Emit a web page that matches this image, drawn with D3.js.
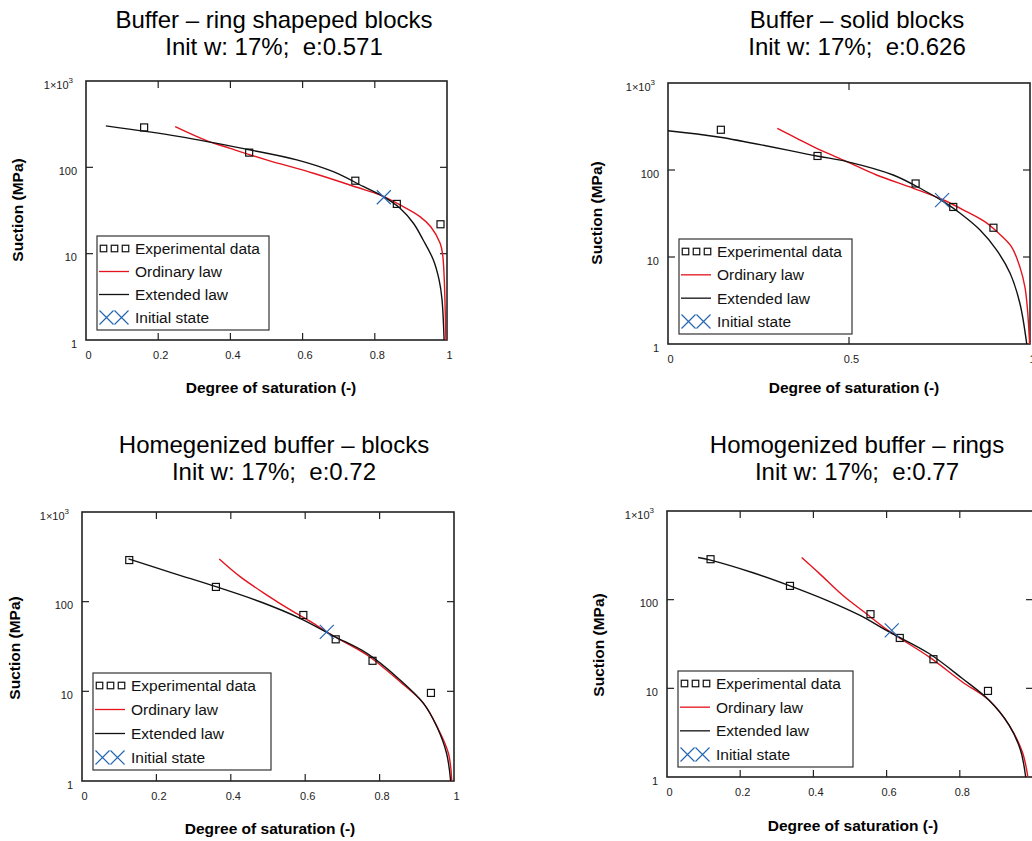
<!DOCTYPE html>
<html>
<head>
<meta charset="utf-8">
<script src="https://cdn.jsdelivr.net/npm/d3@7"></script>
<style>
  body { margin: 0; background: #fff; }
  svg { display: block; font-family: Arial, "Liberation Sans", sans-serif; }
</style>
</head>
<body>
<svg width="1032" height="841"></svg>
<script>
// --- data: [degree of saturation, suction MPa] ---

// Buffer - ring shapeped blocks
var expRing = [[0.161, 290], [0.452, 148], [0.746, 70], [0.861, 37.7], [0.982, 21.9]]
var ordRing = [[0.247, 296], [0.334, 204], [0.399, 166], [0.500, 122], [0.630, 85.4], [0.750, 58.8],
  [0.814, 47.9], [0.870, 36.7], [0.925, 26.9], [0.955, 20.5], [0.981, 13.2], [0.988, 9.7],
  [0.992, 5.5], [0.994, 3.2], [0.997, 1]]
var extRing = [[0.055, 302], [0.260, 227], [0.445, 162], [0.584, 122], [0.685, 89], [0.768, 60],
  [0.824, 45.8], [0.870, 33.6], [0.907, 22.5], [0.934, 14.4], [0.962, 8.5], [0.978, 5.0],
  [0.986, 3.0], [0.992, 1]]
var initRing = [0.825, 45]

// Buffer - solid blocks
var expSolid = [[0.146, 290], [0.413, 145], [0.684, 70], [0.788, 37.6], [0.899, 21.7]]
var ordSolid = [[0.302, 301], [0.365, 221], [0.420, 170], [0.494, 125], [0.576, 87.6], [0.678, 61.6],
  [0.761, 45.2], [0.825, 33.2], [0.875, 25.5], [0.915, 18.5], [0.949, 13.1], [0.972, 7.7],
  [0.986, 4.5], [0.993, 2.5], [0.999, 1]]
var extSolid = [[0.0, 283], [0.144, 238], [0.411, 145], [0.494, 125], [0.622, 87.6], [0.705, 58.9],
  [0.761, 43.2], [0.807, 31.8], [0.862, 20.4], [0.908, 12.0], [0.945, 6.5], [0.972, 2.94],
  [0.991, 1]]
var initSolid = [0.757, 45]

// Homegenized buffer - blocks
var expHomBlocks = [[0.127, 291], [0.360, 146], [0.595, 71], [0.682, 38], [0.781, 21.9], [0.938, 9.6]]
var ordHomBlocks = [[0.369, 299], [0.425, 190], [0.497, 118.5], [0.568, 77.3], [0.622, 57.3],
  [0.676, 41.4], [0.766, 25.4], [0.855, 12.8], [0.918, 7.35], [0.955, 4.0], [0.985, 2.04], [0.994, 1]]
var extHomBlocks = [[0.125, 300], [0.246, 207], [0.360, 147], [0.479, 99.8], [0.586, 65.2],
  [0.676, 41.4], [0.766, 26.5], [0.855, 13.4], [0.918, 7.35], [0.954, 4.03], [0.980, 2.04], [0.991, 1]]
var initHomBlocks = [0.658, 46]

// Homogenized buffer - rings
var expHomRings = [[0.119, 286], [0.336, 143], [0.556, 68.6], [0.636, 37], [0.728, 21.3], [0.877, 9.35]]
var ordHomRings = [[0.368, 299], [0.416, 198], [0.480, 112], [0.544, 69.8], [0.607, 44.1],
  [0.716, 22.6], [0.807, 11.8], [0.880, 7.34], [0.935, 3.83], [0.971, 1.91], [0.986, 1]]
var extHomRings = [[0.085, 299], [0.119, 279], [0.235, 201], [0.336, 143], [0.435, 98.8],
  [0.526, 66.8], [0.607, 43.3], [0.716, 24.7], [0.807, 12.9], [0.880, 7.34], [0.935, 3.83],
  [0.966, 2.0], [0.980, 1]]
var initHomRings = [0.614, 45]

var titles = [
  ['Buffer \u2013 ring shapeped blocks', 'Init w: 17%;  e:0.571'],
  ['Buffer \u2013 solid blocks', 'Init w: 17%;  e:0.626'],
  ['Homegenized buffer \u2013 blocks', 'Init w: 17%;  e:0.72'],
  ['Homogenized buffer \u2013 rings', 'Init w: 17%;  e:0.77']
]
var xTicksFine = [0, 0.2, 0.4, 0.6, 0.8, 1]
var xTicksCoarse = [0, 0.5, 1]
var yTicks = [1, 10, 100, 1000]
var legendLabels = ['Experimental data', 'Ordinary law', 'Extended law', 'Initial state']

// --- layout ---
var panels = [
  { x0: 86, x1: 447, y0: 81, y1: 340, tcx: 274, tby: 28, leg: [97, 236, 172, 94], xt: [271, 393], yt: [23, 210],
    ticks: xTicksFine, exp: expRing, ord: ordRing, ext: extRing, init: initRing, title: titles[0] },
  { x0: 668, x1: 1030, y0: 83, y1: 344, tcx: 857, tby: 28, leg: [679, 239, 173, 95], xt: [854, 393], yt: [602, 213],
    ticks: xTicksCoarse, exp: expSolid, ord: ordSolid, ext: extSolid, init: initSolid, title: titles[1] },
  { x0: 82, x1: 454, y0: 512, y1: 781, tcx: 274, tby: 453, leg: [93, 673, 178, 97], xt: [270, 834], yt: [20, 648],
    ticks: xTicksFine, exp: expHomBlocks, ord: ordHomBlocks, ext: extHomBlocks, init: initHomBlocks, title: titles[2] },
  { x0: 667, x1: 1033, y0: 511, y1: 777, tcx: 857, tby: 453, leg: [678, 671, 175, 96], xt: [853, 831], yt: [604, 645],
    ticks: xTicksFine, exp: expHomRings, ord: ordHomRings, ext: extHomRings, init: initHomRings, title: titles[3] }
]

var RED = '#e3141e', BLACK = '#111', BLUE = '#2466b2'
var svg = d3.select('svg')

function xMark(g, cx, cy, r) {
  g.append('path')
    .attr('d', 'M' + (cx - r) + ',' + (cy - r) + 'L' + (cx + r) + ',' + (cy + r) +
               'M' + (cx - r) + ',' + (cy + r) + 'L' + (cx + r) + ',' + (cy - r))
    .attr('stroke', BLUE).attr('stroke-width', 1.2).attr('fill', 'none')
}

function squareMark(g, cx, cy, s) {
  g.append('rect')
    .attr('x', cx - s / 2).attr('y', cy - s / 2)
    .attr('width', s).attr('height', s)
    .attr('fill', 'none').attr('stroke', BLACK).attr('stroke-width', 1.2)
}

panels.forEach(function(p) {
  var g = svg.append('g')
  var x = d3.scaleLinear().domain([0, 1]).range([p.x0, p.x1])
  var y = d3.scaleLog().domain([1, 1000]).range([p.y1, p.y0])

  // title (two lines, keep the double space)
  g.append('text').attr('x', p.tcx).attr('y', p.tby)
    .attr('text-anchor', 'middle').attr('font-size', 24).text(p.title[0])
  g.append('text').attr('x', p.tcx).attr('y', p.tby + 27)
    .attr('text-anchor', 'middle').attr('font-size', 24)
    .style('white-space', 'pre').text(p.title[1])

  // frame
  g.append('rect')
    .attr('x', p.x0).attr('y', p.y0)
    .attr('width', p.x1 - p.x0).attr('height', p.y1 - p.y0)
    .attr('fill', 'none').attr('stroke', '#222').attr('stroke-width', 1.6)

  // inward ticks on all sides
  var tl = 7
  p.ticks.slice(1, -1).forEach(function(t) {
    g.append('line').attr('x1', x(t)).attr('x2', x(t)).attr('y1', p.y1).attr('y2', p.y1 - tl)
      .attr('stroke', '#222').attr('stroke-width', 1.2)
    g.append('line').attr('x1', x(t)).attr('x2', x(t)).attr('y1', p.y0).attr('y2', p.y0 + tl)
      .attr('stroke', '#222').attr('stroke-width', 1.2)
  })
  yTicks.slice(1, -1).forEach(function(t) {
    g.append('line').attr('x1', p.x0).attr('x2', p.x0 + tl).attr('y1', y(t)).attr('y2', y(t))
      .attr('stroke', '#222').attr('stroke-width', 1.2)
    g.append('line').attr('x1', p.x1).attr('x2', p.x1 - tl).attr('y1', y(t)).attr('y2', y(t))
      .attr('stroke', '#222').attr('stroke-width', 1.2)
  })

  // tick labels
  p.ticks.forEach(function(t) {
    g.append('text').attr('x', x(t) + 2.5).attr('y', p.y1 + 19)
      .attr('text-anchor', 'middle').attr('font-size', 11).attr('fill', '#222')
      .text(String(t))
  })
  yTicks.forEach(function(t) {
    var lab = g.append('text').attr('y', y(t) + 7.5)
      .attr('text-anchor', 'end').attr('font-size', 11).attr('fill', '#222')
    if (t === 1000) {
      lab.attr('x', p.x0 - 13)
      lab.append('tspan').text('1\u00d710')
      lab.append('tspan').attr('font-size', 8).attr('dy', -6).text('3')
    } else {
      lab.attr('x', p.x0 - 9).text(String(t))
    }
  })

  // axis titles
  g.append('text').attr('x', p.xt[0]).attr('y', p.xt[1])
    .attr('text-anchor', 'middle').attr('font-size', 15.5).attr('font-weight', 'bold')
    .text('Degree of saturation (-)')
  g.append('text')
    .attr('transform', 'translate(' + p.yt[0] + ',' + p.yt[1] + ') rotate(-90)')
    .attr('text-anchor', 'middle').attr('font-size', 15.5).attr('font-weight', 'bold')
    .text('Suction (MPa)')

  // curves
  var line = d3.line()
    .x(function(d) { return x(d[0]) })
    .y(function(d) { return y(d[1]) })
    .curve(d3.curveCatmullRom.alpha(0.5))

  g.append('path').datum(p.ord).attr('d', line)
    .attr('fill', 'none').attr('stroke', RED).attr('stroke-width', 1.4)
  g.append('path').datum(p.ext).attr('d', line)
    .attr('fill', 'none').attr('stroke', BLACK).attr('stroke-width', 1.4)

  p.exp.forEach(function(d) { squareMark(g, x(d[0]), y(d[1]), 7) })
  xMark(g, x(p.init[0]), y(p.init[1]), 7)

  // legend
  var L = p.leg
  g.append('rect').attr('x', L[0]).attr('y', L[1]).attr('width', L[2]).attr('height', L[3])
    .attr('fill', '#fff').attr('stroke', '#333').attr('stroke-width', 1.2)
  var step = (L[3] - 25) / 3
  legendLabels.forEach(function(lab, i) {
    var cy = L[1] + 12.5 + i * step
    var sx = L[0] + 2
    if (i === 0) {
      [0, 1, 2].forEach(function(k) { squareMark(g, sx + 4.5 + k * 11, cy, 6.5) })
    } else if (i === 3) {
      xMark(g, sx + 7.5, cy, 7)
      xMark(g, sx + 22.5, cy, 7)
    } else {
      g.append('line').attr('x1', sx).attr('x2', sx + 30).attr('y1', cy).attr('y2', cy)
        .attr('stroke', i === 1 ? RED : BLACK).attr('stroke-width', 1.3)
    }
    g.append('text').attr('x', L[0] + 38).attr('y', cy + 5.5)
      .attr('font-size', 15.5).attr('fill', '#111').text(lab)
  })
})
</script>
</body>
</html>
